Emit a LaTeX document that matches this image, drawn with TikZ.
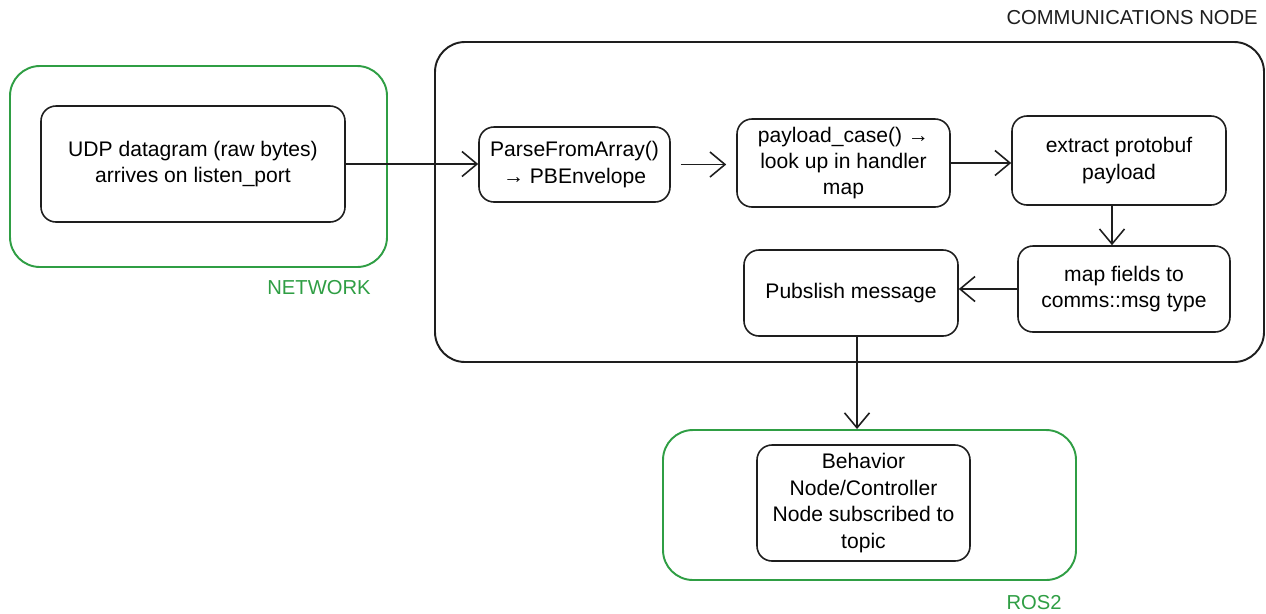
\documentclass[tikz,border=0pt]{standalone}
\usepackage{fontspec}
\setmainfont{Liberation Sans}
\usetikzlibrary{arrows.meta}

\definecolor{grpgreen}{HTML}{2F9E44}
\definecolor{inkblack}{HTML}{1E1E1E}

\tikzset{
    procbox/.style={draw=inkblack, line width=0.9pt, rounded corners=0.3cm,
        align=center, font=\fontsize{12}{15}\selectfont, inner sep=2pt},
    groupbox/.style={draw=#1, line width=1.1pt, rounded corners=0.6cm},
    grouplabel/.style={anchor=east, inner sep=0pt, font=\fontsize{11.5}{13}\selectfont},
    flow/.style={draw=inkblack, line width=0.9pt,
        -{Straight Barb[length=3mm,width=5mm,line width=0.9pt]}}
}

\begin{document}
\begin{tikzpicture}
        \useasboundingbox (0,0) rectangle (25.32,-12.26);

        % gruppen
        \node[groupbox=grpgreen, minimum width=7.54cm, minimum height=4.02cm] (network) at (3.97,-3.33) {};
        \node[groupbox=inkblack, minimum width=16.58cm, minimum height=6.4cm] (comms) at (16.99,-4.04) {};
        \node[groupbox=grpgreen, minimum width=8.26cm, minimum height=3.0cm] (ros) at (17.39,-10.1) {};

        \node[grouplabel, text=grpgreen] (netlabel) at (7.42,-5.76) {NETWORK};
        \node[grouplabel, text=inkblack] (commslabel) at (25.16,-0.36) {COMMUNICATIONS NODE};
        \node[grouplabel, text=grpgreen] (roslabel) at (21.24,-12.06) {ROS2};

        % schritte
        \node[procbox, minimum width=6.08cm, minimum height=2.32cm] (udp) at (3.86,-3.28)
            {UDP datagram (raw bytes)\\arrives on listen\_port};
        \node[procbox, minimum width=3.82cm, minimum height=1.5cm] (parse) at (11.49,-3.29)
            {ParseFromArray()\\→ PBEnvelope};
        \node[procbox, minimum width=4.26cm, minimum height=1.76cm] (lookup) at (16.87,-3.26)
            {payload\_case() →\\look up in handler\\map};
        \node[procbox, minimum width=4.28cm, minimum height=1.78cm] (extract) at (22.38,-3.21)
            {extract protobuf\\payload};
        \node[procbox, minimum width=4.24cm, minimum height=1.72cm] (mapfields) at (22.48,-5.78)
            {map fields to\\comms::msg type};
        \node[procbox, minimum width=4.28cm, minimum height=1.72cm] (publish) at (17.02,-5.86)
            {Pubslish message};
        \node[procbox, minimum width=4.26cm, minimum height=2.32cm] (behavior) at (17.27,-10.06)
            {Behavior\\Node/Controller\\Node subscribed to\\topic};

        % pfeile
        \draw[flow] (udp.east) -- (udp.east -| parse.west);
        \draw[flow, shorten <=0.2cm, shorten >=0.2cm] (parse.east) -- (parse.east -| lookup.west);
        \draw[flow] (lookup.east) -- (lookup.east -| extract.west);
        \draw[flow] ([xshift=-0.14cm]extract.south) -- ([xshift=-0.14cm]extract.south |- mapfields.north);
        \draw[flow] (mapfields.west) -- (mapfields.west -| publish.east);
        \draw[flow] ([xshift=0.12cm]publish.south) -- ([xshift=0.12cm]publish.south |- ros.north);

    \end{tikzpicture}
\end{document}
